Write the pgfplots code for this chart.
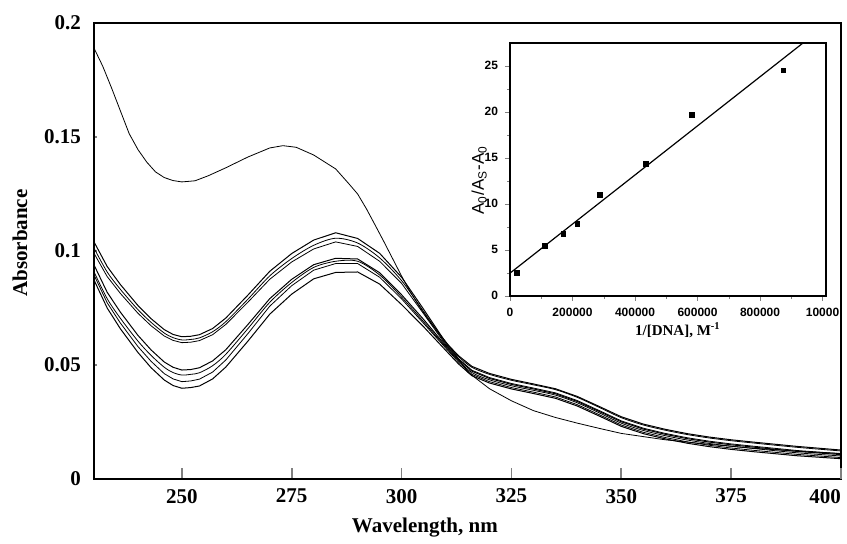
\documentclass[border=0pt]{standalone}
\usepackage{fontspec}
\setmainfont{Liberation Serif}
\newfontfamily\arialfont{Liberation Sans}
\usepackage{pgfplots}
\usepackage{pgfplotstable}
\pgfplotsset{compat=1.18}

\pgfplotstableread{
nm  u1     u2     u3     l1     l2     l3     l4
230 0.1040 0.1013 0.0990 0.0939 0.0909 0.0895 0.0873
233 0.0932 0.0908 0.0888 0.0819 0.0791 0.0773 0.0750
236 0.0853 0.0832 0.0814 0.0732 0.0705 0.0684 0.0659
240 0.0761 0.0743 0.0727 0.0630 0.0605 0.0581 0.0555
243 0.0703 0.0687 0.0672 0.0566 0.0542 0.0516 0.0488
246 0.0655 0.0640 0.0627 0.0513 0.0490 0.0462 0.0434
248 0.0634 0.0620 0.0608 0.0490 0.0467 0.0439 0.0410
250 0.0624 0.0610 0.0598 0.0478 0.0456 0.0427 0.0398
252 0.0626 0.0612 0.0600 0.0480 0.0459 0.0430 0.0401
254 0.0633 0.0619 0.0607 0.0488 0.0466 0.0438 0.0408
257 0.0660 0.0646 0.0633 0.0518 0.0497 0.0469 0.0439
260 0.0706 0.0690 0.0678 0.0567 0.0547 0.0522 0.0491
265 0.0806 0.0788 0.0775 0.0677 0.0659 0.0637 0.0604
270 0.0911 0.0891 0.0876 0.0791 0.0775 0.0758 0.0723
275 0.0989 0.0967 0.0952 0.0876 0.0862 0.0848 0.0811
280 0.1048 0.1025 0.1009 0.0940 0.0928 0.0916 0.0878
285 0.1080 0.1056 0.1040 0.0968 0.0955 0.0945 0.0906
290 0.1055 0.1035 0.1020 0.0965 0.0955 0.0945 0.0908
295 0.0990 0.0970 0.0955 0.0905 0.0895 0.0885 0.0855
300 0.0885 0.0870 0.0858 0.0808 0.0798 0.0790 0.0765
305 0.0745 0.0735 0.0725 0.0700 0.0690 0.0683 0.0668
310 0.0600 0.0596 0.0590 0.0585 0.0580 0.0575 0.0565
313 0.0540 0.0536 0.0527 0.0523 0.0518 0.0512 0.0504
316 0.0494 0.0490 0.0477 0.0473 0.0467 0.0459 0.0453
320 0.0463 0.0459 0.0445 0.0441 0.0435 0.0427 0.0421
325 0.0437 0.0433 0.0419 0.0415 0.0409 0.0401 0.0395
330 0.0417 0.0413 0.0399 0.0395 0.0389 0.0381 0.0375
335 0.0396 0.0392 0.0378 0.0374 0.0368 0.0360 0.0354
340 0.0362 0.0358 0.0344 0.0340 0.0334 0.0326 0.0320
345 0.0318 0.0314 0.0300 0.0296 0.0290 0.0282 0.0276
350 0.0273 0.0269 0.0255 0.0251 0.0245 0.0237 0.0231
355 0.0241 0.0237 0.0223 0.0219 0.0213 0.0205 0.0199
360 0.0218 0.0214 0.0200 0.0196 0.0190 0.0182 0.0176
365 0.0199 0.0195 0.0181 0.0177 0.0171 0.0163 0.0157
370 0.0184 0.0180 0.0166 0.0162 0.0156 0.0148 0.0142
375 0.0172 0.0168 0.0154 0.0150 0.0144 0.0136 0.0130
380 0.0162 0.0158 0.0144 0.0140 0.0134 0.0126 0.0120
390 0.0143 0.0139 0.0125 0.0121 0.0115 0.0108 0.0102
400 0.0127 0.0123 0.0111 0.0107 0.0101 0.0094 0.0089
}\dnatable

\pgfplotstableread{
nm  a
230 0.1890
232 0.1810
234 0.1715
236 0.1615
238 0.1515
240 0.1445
242 0.1390
244 0.1347
246 0.1322
248 0.1309
250 0.1303
253 0.1308
256 0.1330
260 0.1365
265 0.1412
270 0.1452
273 0.1462
276 0.1455
280 0.1421
285 0.1360
288 0.1295
290 0.1250
292 0.1185
294 0.1113
296 0.1040
298 0.0965
300 0.0890
302 0.0820
304 0.0758
306 0.0702
308 0.0652
310 0.0604
312 0.0553
315 0.0470
320 0.0396
325 0.0343
330 0.0300
335 0.0270
340 0.0245
345 0.0222
350 0.0200
360 0.0172
370 0.0152
380 0.0135
390 0.0122
400 0.0112
}\freetable

\pgfplotstableread{
x      y
21440  2.44
112000 5.44
170600 6.68
215400 7.80
288000 10.96
435200 14.33
582400 19.66
874600 24.48
}\bindtable

\begin{document}
\begin{tikzpicture}
\begin{axis}[
  at={(0pt,0pt)}, anchor=south west,
  scale only axis, width=373.5pt, height=228pt,
  xmin=230, xmax=400, ymin=0, ymax=0.2,
  xtick={250,275,300,325,350,375},
  extra x ticks={400},
  extra x tick labels={400},
  extra x tick style={xticklabel style={xshift=-8pt}},
  ytick={0,0.05,0.1,0.15,0.2},
  yticklabels={0,0.05,0.1,0.15,0.2},
  scaled y ticks=false,
  tick align=inside,
  xtick pos=bottom, ytick pos=left,
  xtick style={/pgfplots/major tick length=5.5pt, line width=0.8pt},
  ytick style={/pgfplots/major tick length=1.5pt, line width=0.6pt},
  axis line style={line width=1.3pt},
  /pgf/number format/assume math mode=true,
  ticklabel style={font=\fontsize{10.5}{12}\selectfont\bfseries},
  xticklabel style={yshift=-1.5pt},
  yticklabel style={xshift=-3pt},
  xlabel={Wavelength, nm},
  ylabel={Absorbance},
  label style={font=\fontsize{10.5}{12}\selectfont\bfseries},
  xlabel style={at={(axis description cs:0.443,-0.106)}, anchor=center},
  ylabel style={at={(axis description cs:-0.099,0.5175)}, anchor=center},
  no markers,
  cycle list={{black, line width=0.5pt, smooth}},
]
\addplot table[x=nm, y=a] {\freetable};
\addplot table[x=nm, y=u1] {\dnatable};
\addplot table[x=nm, y=u2] {\dnatable};
\addplot table[x=nm, y=u3] {\dnatable};
\addplot table[x=nm, y=l1] {\dnatable};
\addplot table[x=nm, y=l2] {\dnatable};
\addplot table[x=nm, y=l3] {\dnatable};
\addplot table[x=nm, y=l4] {\dnatable};
\end{axis}

\begin{axis}[
  at={(208pt,91.65pt)}, anchor=south west,
  scale only axis, width=157.85pt, height=126.5pt,
  xmin=0, xmax=1010000, ymin=0, ymax=27.5,
  xtick={0,200000,400000,600000,800000,1000000},
  xticklabels={0,200000,400000,600000,800000,10000},
  ytick={0,5,10,15,20,25},
  minor x tick num=1, minor y tick num=1,
  scaled x ticks=false,
  tick align=outside,
  xtick pos=bottom, ytick pos=left,
  major tick length=2.5pt, minor tick length=1.5pt,
  axis line style={line width=1pt},
  /pgf/number format/assume math mode=true,
  ticklabel style={font=\arialfont\fontsize{6}{7}\selectfont\bfseries},
  xlabel={1/[DNA], M\textsuperscript{-1}},
  xlabel style={font=\fontsize{7.5}{9}\selectfont\bfseries, at={(axis description cs:0.532,-0.1356)}, anchor=center},
  ylabel={A\textsubscript{0}/A\textsubscript{S}-A\textsubscript{0}},
  ylabel style={font=\arialfont\fontsize{8.5}{10}\selectfont, at={(axis description cs:-0.098,0.457)}, anchor=center},
]
\addplot[black, line width=0.6pt] coordinates {(0,2.45) (938600,27.5)};
\addplot[black, only marks, mark=square*, mark size=1.2pt] table[x=x, y=y] {\bindtable};
\end{axis}
\pgfresetboundingbox
\useasboundingbox (-47pt,-32pt) rectangle (376.5pt,239.5pt);
\end{tikzpicture}
\end{document}
